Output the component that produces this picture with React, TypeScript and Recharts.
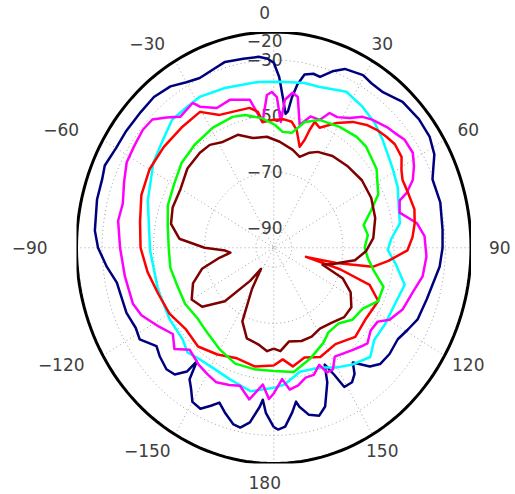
import React from "react";
import { ScatterChart, Scatter, XAxis, YAxis, ReferenceDot } from "recharts";

// radial scale in dB: centre of the plot sits at R_MIN, the outer rim at R_MAX
const R_MIN = -97;
const R_MAX = -20;
const SPAN = R_MAX - R_MIN;

const ringLevels = [-90, -70, -50, -30];
const ringTickLabels = ["−90", "−70", "−50", "−30", "−20"];
const ringTickValues = [-90, -70, -50, -30, -20];
const spokeAngles = [0, 30, 60, 90, 120, 150];
const angleTicks = [0, 30, 60, 90, 120, 150, 180, -150, -120, -90, -60, -30];

// [angle in degrees, level in dB]
const navyPattern = [
  [-180, -33], [-177, -38], [-175.5, -42.6], [-174.5, -40], [-171.5, -34], [-168.5, -31.5],
  [-166, -32], [-162, -35.2], [-159, -37.8], [-156.5, -35.5], [-153.5, -32.8], [-150, -33.5],
  [-147.5, -37], [-145, -39.7], [-143.5, -46.5], [-142.5, -41.3], [-139.5, -37.5], [-136, -36.7],
  [-131, -38], [-127.5, -39.3], [-122, -35.3], [-118, -36], [-112, -35], [-105, -34.9],
  [-101.5, -34.5], [-96, -31.5], [-90, -28.4], [-85, -26.9], [-76, -25.9], [-70, -25.7],
  [-66, -24.8], [-60, -25.9], [-54, -25.9], [-47, -26], [-41, -25.7], [-35, -26.7],
  [-30, -28.8], [-25.5, -29.9], [-20, -29], [-16, -28], [-10, -28.5], [-5, -28.6],
  [-2, -29.5], [0, -31], [2, -36], [4, -44], [5.5, -49], [6.5, -48], [7.5, -43], [9, -38],
  [11, -34], [14, -33], [16.5, -33.4], [20, -30], [23.5, -27.4], [29.5, -26.2], [33, -27],
  [37.5, -27], [44, -24.6], [51, -24.1], [57, -24.4], [62, -26], [68.5, -30.4], [76, -30],
  [84.5, -30.8], [90, -31.1], [96, -31.9], [107, -34.5], [114.5, -35.3], [119, -37],
  [124, -38.6], [130, -38], [135, -38.3], [138.5, -40.4], [143, -45.7], [145, -42],
  [147.5, -40.1], [151, -40.2], [152.5, -45.9], [154.5, -50.8], [156.5, -44.6], [160.5, -36.9],
  [163.5, -34.5], [167, -35.8], [170, -39.4], [171, -41.4], [173, -37.8], [176, -33],
  [178.5, -32.1], [180, -33],
];

const cyanPattern = [
  [-180, -47], [-170, -45], [-160, -47], [-150, -48], [-142.5, -47.6], [-138, -46.7],
  [-132.5, -48.7], [-122, -49], [-108, -49.4], [-91, -48.7], [-71, -45], [-57, -41],
  [-48, -39], [-41, -36.5], [-34, -36.4], [-28, -35.9], [-18.5, -36.9], [-6, -37.5],
  [3, -37.7], [11.5, -37], [17, -36.9], [27, -34.5], [34.5, -35.9], [41.5, -37.5],
  [48, -39.7], [58, -42.5], [66, -44], [73, -46], [80, -47], [86, -51], [91, -52.5],
  [97, -49], [104.5, -44.2], [113, -45.6], [122, -45.7], [130, -45.8], [136, -42.8],
  [143.5, -45.2], [150, -47.7], [157, -50.6], [167, -51.6], [175, -48], [180, -47],
];

const magentaPattern = [
  [-180, -45], [-178, -43], [-175, -48], [-170, -42], [-165, -46], [-160.5, -45], [-155, -44],
  [-150, -45], [-145, -46], [-138, -48], [-133, -44], [-128, -47], [-122, -44], [-115, -40],
  [-110, -38.5], [-100, -38], [-90, -37], [-81, -35.5], [-75, -36], [-68, -34], [-62, -32],
  [-56, -31.5], [-50.5, -30.8], [-46, -31.1], [-42, -34.4], [-38, -37.7], [-31.5, -36.4],
  [-29.8, -39], [-24, -42.4], [-18, -41.5], [-10, -43.4], [-5.6, -52], [-2.8, -42.4],
  [-0.8, -41.4], [1.3, -43.2], [3.5, -52], [4.7, -44], [7.6, -41.2], [9.9, -42.4], [13, -52],
  [17, -48], [21.4, -48], [24.4, -44.2], [28, -44.2], [32.6, -42], [36.6, -38.8], [40, -37.3],
  [45.7, -35.3], [49, -34.5], [53, -33], [58, -33], [62, -35], [66, -37.6], [69.3, -41.5],
  [71, -45], [75.7, -46.3], [81, -40.5], [86, -38], [93, -37.3], [100, -38], [106.5, -40.5],
  [113.7, -42.1], [119.6, -45], [123, -48.6], [128, -49], [133, -47], [136, -48],
  [140, -49.3], [148.5, -51.4], [152, -47.8], [155, -47.9], [157, -51.6], [161, -49],
  [165, -49], [169, -47], [173, -46], [176, -50], [180, -45],
];

const redPattern = [
  [-180, -55], [-170, -54], [-160, -55], [-150, -53], [-140, -51], [-130, -52], [-120, -50],
  [-110, -49], [-100, -47], [-90, -45], [-80, -44], [-70, -42], [-60, -41], [-50, -41],
  [-40, -41], [-30.7, -40.6], [-24, -45.1], [-17, -46], [-10.7, -46.2], [-7.3, -48.1],
  [-5.5, -51.9], [-0.5, -51.4], [5, -51], [8.9, -51.5], [12, -54], [15.7, -59.6],
  [17.4, -56.6], [18.4, -52.7], [19.6, -49.3], [22.7, -50.6], [28.9, -46.1], [34.5, -42.5],
  [39.6, -40.1], [43.7, -38.8], [48, -37.8], [52, -37], [57, -37.5], [61, -40], [64.3, -41.2],
  [70, -41], [76, -40.4], [81, -41.3], [86, -42.7], [91, -44.8], [96, -52], [100, -57.8],
  [102.5, -72], [104.5, -84], [106.5, -70], [109.5, -57.3], [115, -52], [125, -53],
  [135, -52], [145, -55], [155, -54], [163, -56], [170, -54], [175, -57], [180, -55],
];

const greenPattern = [
  [-180, -53], [-170, -53], [-160, -53], [-150, -55], [-140, -57], [-130, -58], [-120, -57],
  [-110, -57], [-100, -56], [-90, -56], [-80, -55], [-70, -53], [-60, -52], [-50, -50],
  [-40, -49], [-29, -48], [-19, -47.6], [-13.4, -48.3], [-5.8, -50.5], [0.5, -53.1],
  [4.8, -55.5], [9.7, -55.4], [12.4, -53.2], [15.1, -50.5], [21.4, -48], [30.8, -46.8],
  [39.3, -45.9], [45, -46], [55, -48], [65, -52], [71, -57], [77, -61], [83, -60],
  [90, -61.5], [96, -60], [102, -57], [108, -52], [115, -52], [122, -56], [130, -57],
  [137, -60], [145, -60], [150, -58], [160, -55], [170, -52], [180, -53],
];

const darkRedPattern = [
  [-180, -61], [-176, -60], [-170, -62], [-162, -63], [-155, -68], [-150, -80],
  [-146.5, -88], [-142, -82], [-135, -70], [-127, -62], [-120, -60], [-112, -63],
  [-105, -68], [-100, -75], [-96, -80], [-93, -78], [-90, -70], [-85, -60], [-78, -56],
  [-70, -55], [-60, -55], [-50, -53], [-40.4, -52.5], [-34.2, -52.6], [-27.8, -54.3],
  [-19.2, -54.3], [-11.8, -57], [-3.9, -57.3], [3.5, -59.1], [12, -61.3], [17.3, -63],
  [22.4, -60.3], [26.7, -58.7], [35, -57], [45, -56], [55, -55], [65, -55], [75, -56],
  [85, -58], [92, -61], [98, -65], [101.7, -70.7], [104, -73], [107.7, -77], [112, -68],
  [118, -63], [125, -60], [132, -60], [140, -62], [148, -63], [155, -62], [162, -62],
  [170, -63], [176, -60], [180, -61],
];

const series = [
  { name: "navy", color: "#00007f", pattern: navyPattern },
  { name: "cyan", color: "#00ffff", pattern: cyanPattern },
  { name: "magenta", color: "#ff00ff", pattern: magentaPattern },
  { name: "red", color: "#ff0000", pattern: redPattern },
  { name: "green", color: "#00ff00", pattern: greenPattern },
  { name: "darkred", color: "#7f0000", pattern: darkRedPattern },
];

const W = 515;
const H = 494;
const margin = { top: 32, right: 44, bottom: 30.5, left: 76.5 };
const pxX = (W - margin.left - margin.right) / (2 * SPAN);
const pxY = (H - margin.top - margin.bottom) / (2 * SPAN);

const rad = (deg: number) => (deg * Math.PI) / 180;

// 0 deg points up, angles grow clockwise
const polar = (angle: number, level: number) => {
  const r = Math.max(level - R_MIN, 0);
  return { x: r * Math.sin(rad(angle)), y: r * Math.cos(rad(angle)) };
};

const ring = (r: number) => {
  const pts = [];
  for (let a = 0; a <= 360; a += 2) pts.push({ x: r * Math.sin(rad(a)), y: r * Math.cos(rad(a)) });
  return pts;
};

// text labels are laid out on a pixel circle, slightly left of the axis centre
const LABEL_RADIUS_PX = 235;
const LABEL_SHIFT_PX = -9;

const angleLabelData = angleTicks.map((a) => ({
  x: (LABEL_RADIUS_PX * Math.sin(rad(a)) + LABEL_SHIFT_PX) / pxX,
  y: (LABEL_RADIUS_PX * Math.cos(rad(a))) / pxY,
  text: String(a).replace("-", "−"),
}));

const ringLabelData = ringTickValues.map((v, i) => ({
  x: LABEL_SHIFT_PX / pxX,
  // the rim label sits just inside the outer circle
  y: v === R_MAX ? SPAN - 9 / pxY : v - R_MIN,
  text: ringTickLabels[i],
}));

const labelShape = (text: string) => (props: any) => (
  <text
    x={props.cx}
    y={props.cy}
    textAnchor="middle"
    dominantBaseline="central"
    fontSize={17}
    fontFamily="DejaVu Sans, sans-serif"
    fill="#404040"
  >
    {text}
  </text>
);

const NoDot = () => <g />;
const gridLine = { stroke: "#a0a0a0", strokeWidth: 1, strokeDasharray: "1 3" };

export default function App() {
  return (
    <div style={{ position: "absolute", left: 0, top: 0, background: "#fff" }}>
      <ScatterChart width={W} height={H} margin={margin}>
        <XAxis type="number" dataKey="x" domain={[-SPAN, SPAN]} hide allowDataOverflow />
        <YAxis type="number" dataKey="y" domain={[-SPAN, SPAN]} hide allowDataOverflow />

        {ringLevels.map((lv) => (
          <Scatter
            key={`ring-${lv}`}
            data={ring(lv - R_MIN)}
            line={gridLine}
            shape={NoDot}
            isAnimationActive={false}
          />
        ))}
        {spokeAngles.map((a) => (
          <Scatter
            key={`spoke-${a}`}
            data={[polar(a + 180, R_MAX), polar(a, R_MAX)]}
            line={gridLine}
            shape={NoDot}
            isAnimationActive={false}
          />
        ))}
        <Scatter
          data={ring(SPAN)}
          line={{ stroke: "#000", strokeWidth: 3 }}
          shape={NoDot}
          isAnimationActive={false}
        />

        {[...angleLabelData, ...ringLabelData].map((l) => (
          <ReferenceDot
            key={`lbl-${l.text}`}
            x={l.x}
            y={l.y}
            r={0}
            ifOverflow="visible"
            shape={labelShape(l.text)}
          />
        ))}

        {series.map((s) => (
          <Scatter
            key={s.name}
            name={s.name}
            data={s.pattern.map(([a, v]) => polar(a, v))}
            line={{ stroke: s.color, strokeWidth: 2.5, strokeLinejoin: "round" }}
            shape={NoDot}
            isAnimationActive={false}
          />
        ))}
      </ScatterChart>
    </div>
  );
}
